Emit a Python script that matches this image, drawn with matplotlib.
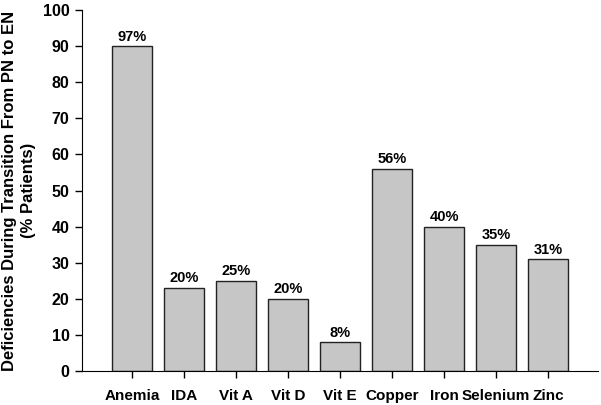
import matplotlib
matplotlib.use("Agg")
import matplotlib.pyplot as plt

categories = ["Anemia", "IDA", "Vit A", "Vit D", "Vit E", "Copper", "Iron", "Selenium", "Zinc"]
values = [90, 23, 25, 20, 8, 56, 40, 35, 31]
labels = ["97%", "20%", "25%", "20%", "8%", "56%", "40%", "35%", "31%"]
yticks = [0, 10, 20, 30, 40, 50, 60, 70, 80, 90, 100]

plt.rcParams['font.family'] = ['Liberation Sans', 'DejaVu Sans']
plt.rcParams['font.weight'] = 'bold'

fig = plt.figure(figsize=(6.01, 4.05), dpi=100)
ax = fig.add_axes([0.1364, 0.084, 0.859, 0.891])
x = list(range(len(categories)))
ax.bar(x, values, width=0.77, color="#c6c6c6", edgecolor="#222222", linewidth=1.0)
for xi, v, lab in zip(x, values, labels):
    ax.text(xi, v + 0.7, lab, ha="center", va="bottom", fontsize=10.5, fontweight="bold")

ax.set_xlim(-0.96, 8.96)
ax.set_ylim(0, 100)
ax.set_yticks(yticks)
ax.set_xticks(x)
ax.set_xticklabels(categories, fontsize=11, fontweight="bold")
ax.tick_params(axis="y", labelsize=11.5, direction="out", length=5, width=1, pad=4)
ax.tick_params(axis="x", direction="out", length=5, width=1, pad=8)
for lab in ax.get_yticklabels():
    lab.set_fontweight("bold")
ax.spines["top"].set_visible(False)
ax.spines["right"].set_visible(False)
ax.set_ylabel("Deficiencies During Transition From PN to EN\n(% Patients)", fontsize=12, fontweight="bold", labelpad=5, linespacing=1.3)
fig.savefig("out.png", dpi=100)
